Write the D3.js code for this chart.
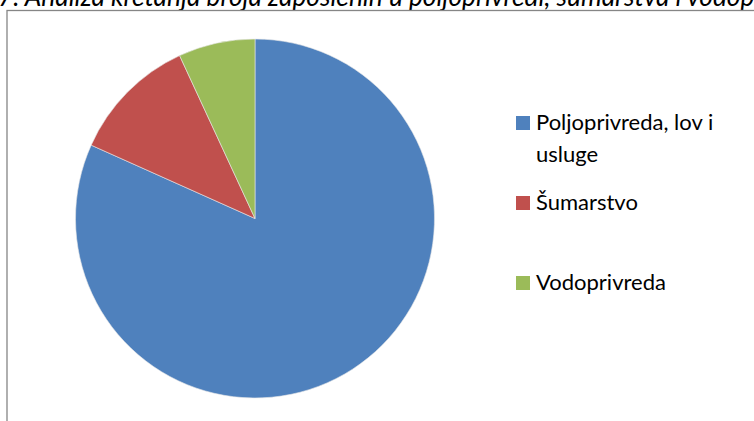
<!DOCTYPE html>
<html>
<head>
<meta charset="utf-8">
<script src="https://cdn.jsdelivr.net/npm/d3@7"></script>
<style>
  html, body { margin: 0; padding: 0; background: #fff; }
  svg { display: block; }
</style>
</head>
<body>
<svg id="chart" width="754" height="421"></svg>
<script>
// Employment structure by sector (share, %)
const categories = ["Poljoprivreda, lov i usluge", "Šumarstvo", "Vodoprivreda"];
const values = [81.7, 11.4, 6.9];
const colors = ["#4F81BD", "#C0504D", "#9BBB59"];
const title = "7. Analiza kretanja broja zaposlenih u poljoprivredi, šumarstva i vodoprivredi";

const svg = d3.select("#chart");
const W = 754, H = 421;

// Title (italic, sits above the chart frame; the page clips it at the top and right)
const titleText = svg.append("text")
  .attr("x", -2)
  .attr("y", 6)
  .attr("font-family", "Lato, Carlito, Calibri, sans-serif")
  .attr("font-style", "italic")
  .attr("font-size", 20)
  .attr("fill", "#000")
  .text(title.slice(0, title.indexOf("vodop") + 5));
// size the heading so that "...vodop" reaches the right page edge
const prefixW = titleText.node().getComputedTextLength();
titleText.attr("font-size", 20 * 757 / prefixW).text(title);

// Chart frame
svg.append("rect")
  .attr("x", 7)
  .attr("y", 10.5)
  .attr("width", W + 20)
  .attr("height", H + 20)
  .attr("fill", "#fff")
  .attr("stroke", "#868686")
  .attr("stroke-width", 1.3);

// Pie
const cx = 255, cy = 218.5, r = 179.5;
const pie = d3.pie().sort(null).value(d => d.value);
const arc = d3.arc().innerRadius(0).outerRadius(r);
const data = categories.map((c, i) => ({ name: c, value: values[i], color: colors[i] }));

svg.append("g")
  .attr("transform", `translate(${cx},${cy})`)
  .selectAll("path")
  .data(pie(data))
  .join("path")
  .attr("d", arc)
  .attr("fill", d => d.data.color)
  .attr("stroke", "#e8e8e8")
  .attr("stroke-width", 0.6);

// Legend
const lx = 516, textX = 536, maxW = 215;
const firstBaseline = 130, step = 80, lineH = 32, sq = 14;
const legend = svg.append("g")
  .attr("font-family", "Lato, Carlito, Calibri, sans-serif")
  .attr("font-size", 22)
  .attr("fill", "#000");

data.forEach((d, i) => {
  const base = firstBaseline + i * step;
  legend.append("rect")
    .attr("x", lx).attr("y", base - sq)
    .attr("width", sq).attr("height", sq)
    .attr("fill", d.color);
  const t = legend.append("text").attr("x", textX).attr("y", base);
  // wrap words within the legend width
  const words = d.name.split(" ");
  let line = [], lineNo = 0;
  let tspan = t.append("tspan").attr("x", textX).attr("y", base);
  words.forEach(w => {
    line.push(w);
    tspan.text(line.join(" "));
    if (tspan.node().getComputedTextLength() > maxW && line.length > 1) {
      line.pop();
      tspan.text(line.join(" "));
      line = [w];
      lineNo++;
      tspan = t.append("tspan").attr("x", textX).attr("y", base + lineNo * lineH).text(w);
    }
  });
});
</script>
</body>
</html>
